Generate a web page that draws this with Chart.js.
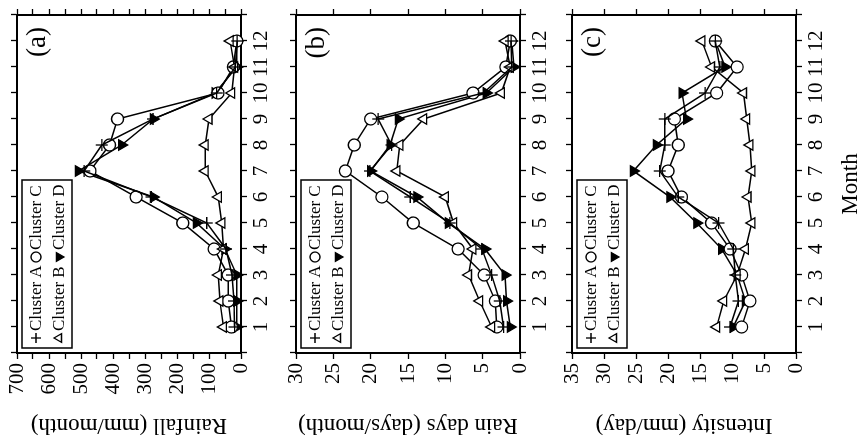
<!DOCTYPE html>
<html>
<head>
<meta charset="utf-8">
<script src="https://cdn.jsdelivr.net/npm/chart.js@4/dist/chart.umd.min.js"></script>
<style>
  html, body { margin: 0; padding: 0; background: #fff; width: 865px; height: 446px; overflow: hidden; }
  #fig { position: absolute; left: 0; top: 0; width: 446px; height: 865px;
         transform-origin: 0 0; transform: translate(0px, 446px) rotate(-90deg); }
  #fig canvas { position: absolute; left: 0; top: 0; }
</style>
</head>
<body>
<div id="fig">
  <canvas id="ca" width="446" height="865"></canvas>
  <canvas id="cb" width="446" height="865"></canvas>
  <canvas id="cc" width="446" height="865"></canvas>
</div>
<script>
// ---- data ----
const months = [1, 2, 3, 4, 5, 6, 7, 8, 9, 10, 11, 12];
const seriesNames = ['Cluster A', 'Cluster B', 'Cluster C', 'Cluster D'];

// (a) Rainfall (mm/month)
const rainA = [20, 22, 28, 47, 107, 280, 490, 435, 275, 76, 18, 12];
const rainB = [55, 66, 71, 55, 60, 71, 112, 112, 100, 29, 20, 34];
const rainC = [30, 40, 40, 84, 182, 328, 472, 411, 386, 72, 24, 13];
const rainD = [13, 13, 13, 50, 139, 274, 508, 373, 274, 81, 13, 13];

// (b) Rain days (days/month)
const daysA = [2.2, 2.7, 3.8, 5.1, 9.4, 14.7, 20.1, 17.2, 19.0, 4.9, 1.1, 1.2];
const daysB = [3.8, 5.4, 6.9, 6.3, 8.9, 10.0, 16.5, 16.1, 12.9, 2.5, 1.3, 2.0];
const daysC = [3.1, 3.3, 4.8, 8.3, 14.3, 18.5, 23.4, 22.2, 20.0, 6.3, 1.9, 1.3];
const daysD = [1.3, 1.8, 2.0, 4.7, 9.6, 13.8, 20.0, 17.4, 16.3, 4.5, 0.8, 1.1];

// (c) Intensity (mm/day)
const intA = [10.3, 9.0, 9.5, 9.8, 12.1, 18.4, 21.3, 20.5, 20.5, 14.2, 11.9, 12.6];
const intB = [12.4, 11.3, 9.2, 7.9, 6.9, 7.5, 6.9, 7.2, 7.7, 8.2, 13.2, 14.7];
const intC = [8.5, 7.2, 8.5, 10.3, 13.2, 17.9, 20.0, 18.4, 19.0, 12.4, 9.2, 12.6];
const intD = [9.8, 7.9, 9.2, 11.6, 15.5, 19.7, 25.4, 21.8, 17.1, 17.8, 11.1, 12.6];

// axis tick settings
const monthMin = 0, monthMax = 13;
const rainMax = 700, rainStep = 50, rainLabelStep = 100;
const daysMax = 30, daysStep = 5;
const intMax = 35, intStep = 5;

const FONT = '"Liberation Serif", "Times New Roman", serif';

const markerStyles = [
  { pointStyle: 'cross', rotation: 0, fill: '#000' },
  { pointStyle: 'triangle', rotation: 0, fill: '#fff' },
  { pointStyle: 'circle', rotation: 0, fill: '#fff' },
  { pointStyle: 'triangle', rotation: 180, fill: '#000' }
];

function drawMarker(ctx, st, x, y, r) {
  ctx.save();
  ctx.fillStyle = st.fill;
  ctx.strokeStyle = '#000';
  ctx.lineWidth = 1.3;
  if (Chart.helpers && Chart.helpers.drawPoint) {
    Chart.helpers.drawPoint(ctx, { pointStyle: st.pointStyle, rotation: st.rotation, radius: r, borderWidth: 1.3 }, x, y);
  }
  ctx.restore();
}

const panelDecor = {
  id: 'panelDecor',
  afterDraw(chart, args, opts) {
    const ctx = chart.ctx, ca = chart.chartArea;
    ctx.save();
    ctx.fillStyle = '#000';
    ctx.font = '27px ' + FONT;
    ctx.textAlign = 'right';
    ctx.textBaseline = 'top';
    ctx.fillText(opts.label, ca.right - 12, ca.top + 7);
    // legend
    const bx = ca.left + 5, by = ca.top + 5, bw = 168, bh = 50;
    ctx.lineWidth = 1.5;
    ctx.strokeStyle = '#000';
    ctx.strokeRect(bx, by, bw, bh);
    const cols = [bx + 10, bx + 91];
    const rows = [by + 14, by + 37];
    const place = [[0, 0], [0, 1], [1, 0], [1, 1]]; // A, B, C, D -> [col,row]
    ctx.font = '17px ' + FONT;
    ctx.textAlign = 'left';
    ctx.textBaseline = 'middle';
    chart.data.datasets.forEach((ds, i) => {
      const [c, r] = place[i];
      drawMarker(ctx, markerStyles[i], cols[c], rows[r], 5);
      ctx.fillStyle = '#000';
      ctx.fillText(ds.label, cols[c] + 7, rows[r] + 1);
    });
    ctx.restore();
  }
};

function makePanel(canvasId, vals, cfg) {
  const datasets = vals.map((v, i) => ({
    label: seriesNames[i],
    data: months.map((m, k) => ({ x: m, y: v[k] })),
    borderColor: '#000',
    borderWidth: 1.5,
    backgroundColor: markerStyles[i].fill,
    pointBackgroundColor: markerStyles[i].fill,
    pointBorderColor: '#000',
    pointBorderWidth: 1.3,
    pointStyle: markerStyles[i].pointStyle,
    pointRotation: markerStyles[i].rotation,
    pointRadius: 6,
    tension: 0,
    clip: false
  }));
  const panelBottom = cfg.top + 224;
  const gridCommon = { drawOnChartArea: false, drawTicks: true, tickLength: 6, color: '#000', tickColor: '#000', tickWidth: 1.3 };
  const borderCommon = { display: true, color: '#000', width: 2 };
  const tickFont = { family: FONT, size: 21 };
  new Chart(document.getElementById(canvasId), {
    type: 'line',
    data: { datasets },
    options: {
      responsive: false,
      animation: false,
      devicePixelRatio: 1,
      layout: { padding: { left: 0, right: 15, top: cfg.top, bottom: 865 - panelBottom - cfg.xHeight } },
      plugins: {
        legend: { display: false },
        tooltip: { enabled: false },
        panelDecor: { label: cfg.label }
      },
      scales: {
        x: {
          type: 'linear', position: 'bottom', min: monthMin, max: monthMax,
          grid: gridCommon, border: borderCommon,
          ticks: {
            stepSize: 1, autoSkip: false, maxRotation: 0, minRotation: 0,
            color: '#000', font: tickFont, padding: 2,
            callback: v => (v >= 1 && v <= 12) ? String(v) : ''
          },
          title: { display: !!cfg.xTitle, text: cfg.xTitle || '', color: '#000',
                   font: { family: FONT, size: 23 }, padding: { top: 0, bottom: 0 } },
          afterFit: s => { s.height = cfg.xHeight; }
        },
        x2: {
          type: 'linear', position: 'top', min: monthMin, max: monthMax,
          grid: gridCommon, border: borderCommon,
          ticks: { stepSize: 1, autoSkip: false, maxRotation: 0, display: true, callback: () => '' },
          afterFit: s => { s.height = 0; }
        },
        y: {
          type: 'linear', position: 'left', min: 0, max: cfg.max,
          grid: gridCommon, border: borderCommon,
          ticks: {
            stepSize: cfg.step, autoSkip: false, color: '#000', font: tickFont, padding: 4,
            callback: v => (v % cfg.labelStep === 0) ? String(v) : ''
          },
          title: { display: true, text: cfg.yTitle, color: '#000',
                   font: { family: FONT, size: 23 }, padding: { top: 7, bottom: 0 } },
          afterFit: s => { s.width = 93; }
        },
        y2: {
          type: 'linear', position: 'right', min: 0, max: cfg.max,
          grid: gridCommon, border: borderCommon,
          ticks: { stepSize: cfg.step, autoSkip: false, callback: () => '' },
          afterFit: s => { s.width = 0; }
        }
      }
    },
    plugins: [panelDecor]
  });
}

makePanel('ca', [rainA, rainB, rainC, rainD],
  { top: 17, xHeight: 30, max: rainMax, step: rainStep, labelStep: rainLabelStep,
    yTitle: 'Rainfall (mm/month)', label: '(a)' });
makePanel('cb', [daysA, daysB, daysC, daysD],
  { top: 296, xHeight: 30, max: daysMax, step: daysStep, labelStep: daysStep,
    yTitle: 'Rain days (days/month)', label: '(b)' });
makePanel('cc', [intA, intB, intC, intD],
  { top: 572, xHeight: 69, max: intMax, step: intStep, labelStep: intStep,
    yTitle: 'Intensity (mm/day)', label: '(c)', xTitle: 'Month' });
</script>
</body>
</html>
